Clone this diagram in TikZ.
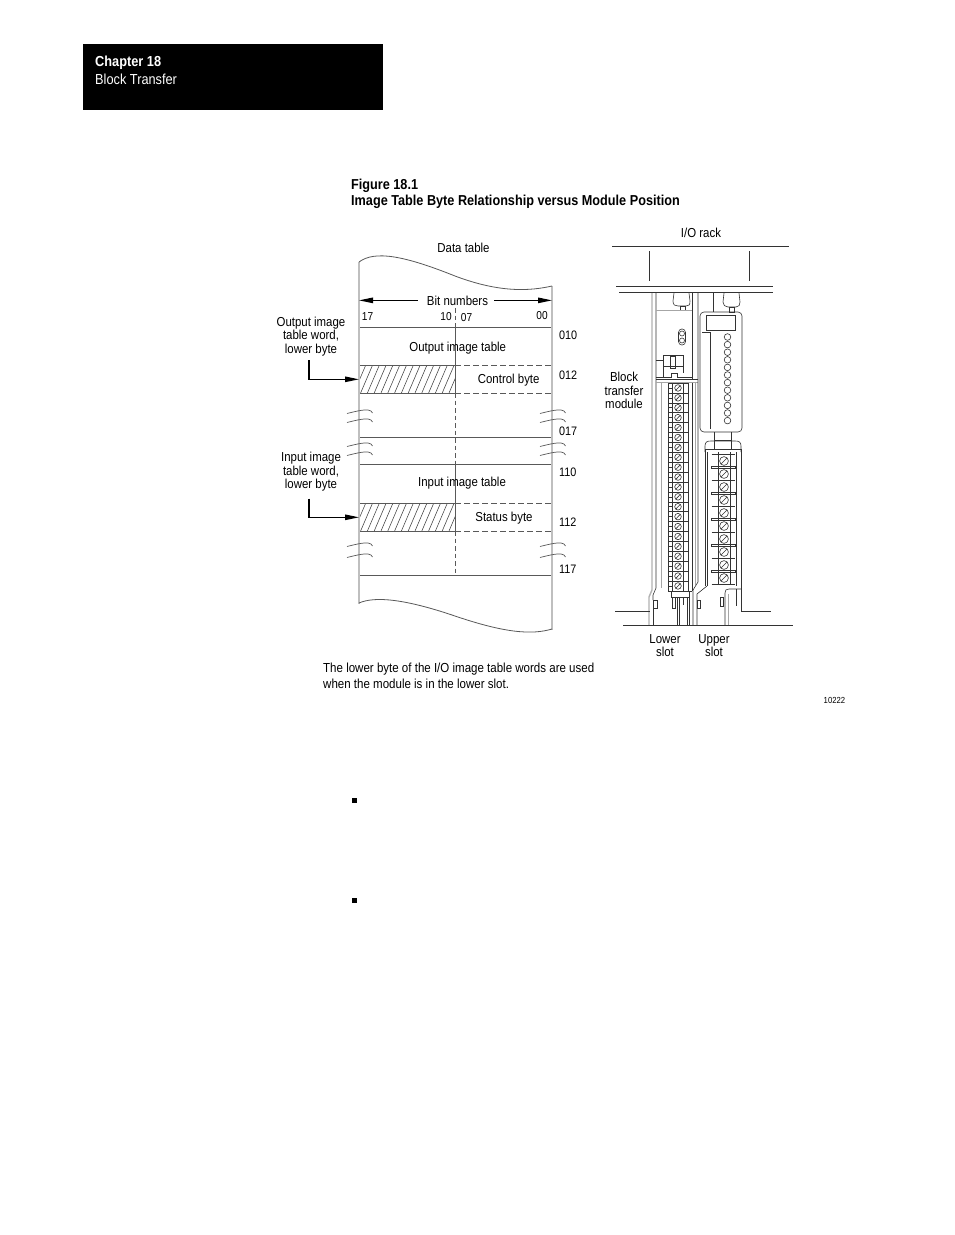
\documentclass[tikz,border=0pt]{standalone}
\usepackage{fontspec}
\setmainfont{Liberation Sans}[FakeStretch=0.88]
\usetikzlibrary{arrows.meta}
\newcommand{\fLab}{\fontsize{13}{13.5}\selectfont}
\newcommand{\fCap}{\fontsize{13.1}{16}\selectfont}
\newcommand{\fTit}{\fontsize{14.4}{16}\selectfont}
\newcommand{\fNum}{\fontsize{12.3}{13}\selectfont}
\newcommand{\fBit}{\fontsize{11.5}{12}\selectfont}
\newcommand{\fTiny}{\fontsize{8.8}{9}\selectfont}
\newcommand{\fHead}{\fontsize{14.5}{16}\selectfont}
\definecolor{ln}{gray}{0.35}
\definecolor{gr}{gray}{0.75}
\begin{document}
\begin{tikzpicture}[x=1pt,y=-1pt,
  txt/.style={inner sep=0pt, anchor=base},
  txtw/.style={inner sep=0pt, anchor=base west},
  mlab/.style={inner sep=0pt, anchor=north, align=center, font=\fLab},
  hl/.style={draw=ln, line width=0.9pt},
  dsh/.style={draw=ln, line width=0.9pt, dash pattern=on 5.5pt off 3.5pt},
  cdsh/.style={draw=ln, line width=0.6pt, dash pattern=on 4.5pt off 3pt},
  edge/.style={draw=gr, line width=1.8pt},
  wave/.style={draw=ln, line width=0.8pt},
  brk/.style={draw=ln, line width=0.7pt},
  hatch/.style={draw=black!75, line width=0.55pt},
  arr/.style={draw=black, line width=1.1pt, -{Triangle[length=14pt,width=5.5pt]}},
  mech/.style={draw=black!80, line width=0.6pt},
  mgray/.style={draw=black!30, line width=1.4pt},
  mlight/.style={draw=black!35, line width=0.7pt}
]
\useasboundingbox (0,0) rectangle (954,1235);
\fill[white] (0,0) rectangle (954,1235);

% ---------- header ----------
\fill[black] (83,44) rectangle (383,110);
\node[txtw, text=white, font=\fHead\bfseries] (chap) at (95,66) {Chapter 18};
\node[txtw, text=white, font=\fHead] (chapt) at (95,84) {Block Transfer};

% ---------- figure title ----------
\node[txtw, font=\fTit\bfseries] (fig) at (351,189) {Figure 18.1};
\node[txtw, font=\fTit\bfseries] (figt) at (351,205) {Image Table Byte Relationship versus Module Position};

% ---------- data table ----------
\node[txt, font=\fLab] (dtab) at (463.5,252) {Data table};

% hatching
\begin{scope}
  \clip (359,365) rectangle (455,393);
  \foreach \i in {0,...,17} \draw[hatch] ({347+\i*6.8},393) -- ++(12,-28);
\end{scope}
\begin{scope}
  \clip (359,503) rectangle (455,531);
  \foreach \i in {0,...,17} \draw[hatch] ({347+\i*6.8},531) -- ++(12,-28);
\end{scope}

% horizontal rows
\draw[hl] (359,327) -- (552,327);
\draw[hl] (359,365) -- (455,365); \draw[dsh] (455,365) -- (552,365);
\draw[hl] (359,393) -- (455,393); \draw[dsh] (455,393) -- (552,393);
\draw[hl] (359,437) -- (552,437);
\draw[hl] (359,464) -- (552,464);
\draw[hl] (359,503) -- (455,503); \draw[dsh] (455,503) -- (552,503);
\draw[hl] (359,531) -- (455,531); \draw[dsh] (455,531) -- (552,531);
\draw[hl] (359,575) -- (552,575);

% center divider
\draw[cdsh] (455,308) -- (455,327);
\draw[hl, line width=0.7pt] (455,327) -- (455,393);
\draw[cdsh] (455,393) -- (455,464);
\draw[hl, line width=0.7pt] (455,464) -- (455,531);
\draw[cdsh] (455,531) -- (455,575);

% side edges and torn edges
\draw[edge] (359,261.5) -- (359,603.5);
\draw[edge] (552,286) -- (552,629.5);
\draw[wave] (359,262) .. controls (375,250) and (405,256) .. (455,276) .. controls (500,293) and (530,291) .. (552,286);
\draw[wave] (359,603) .. controls (375,596) and (405,599) .. (455,616) .. controls (505,633) and (532,635) .. (552,629);

% break marks
\foreach \y in {412,421,445,454,545,556} {
  \draw[brk] (347,{\y+1.5}) .. controls (355,{\y-0.5}) and (363,{\y-2.5}) .. (368,{\y-2}) .. controls (370.5,{\y-1.8}) and (372,{\y-0.5}) .. (372.5,{\y+1});
  \draw[brk] (540,{\y+1.5}) .. controls (548,{\y-0.5}) and (556,{\y-2.5}) .. (561,{\y-2}) .. controls (563.5,{\y-1.8}) and (565,{\y-0.5}) .. (565.5,{\y+1});
}

% bit numbers
\node[txt, font=\fLab] (bitn) at (457.5,305) {Bit numbers};
\coordinate (dtL) at (359,301.5);
\coordinate (dtR) at (552,301.5);
\draw[arr] ([xshift=-9pt]bitn.west) -- (bitn.west -| dtL);
\draw[arr] ([xshift=6pt]bitn.east) -- (bitn.east -| dtR);
\node[txt, font=\fBit] (b17) at (367.5,320) {17};
\node[txt, font=\fBit] (b10) at (446,320) {10};
\node[txt, font=\fBit] (b07) at (466.5,321.5) {07};
\node[txt, font=\fBit] (b00) at (542,319.5) {00};

% row texts
\node[txt, font=\fLab] (oit) at (457.7,351) {Output image table};
\node[txt, font=\fLab] (cb) at (508.7,383) {Control byte};
\node[txt, font=\fLab] (iit) at (462,486.5) {Input image table};
\node[txt, font=\fLab] (sb) at (504,521.5) {Status byte};

% addresses
\node[txtw, font=\fNum] (a010) at (559,339.5) {010};
\node[txtw, font=\fNum] (a012) at (559,379) {012};
\node[txtw, font=\fNum] (a017) at (559,435) {017};
\node[txtw, font=\fNum] (a110) at (559,476) {110};
\node[txtw, font=\fNum] (a112) at (559,526.5) {112};
\node[txtw, font=\fNum] (a117) at (559,573) {117};

% left labels and arrows
\node[mlab] (outlbl) at (311,316.5) {Output image\\table word,\\lower byte};
\node[mlab] (inlbl) at (311,452) {Input image\\table word,\\lower byte};
\coordinate (oA) at (309,360);
\coordinate (oB) at (359,379.3);
\coordinate (iA) at (309,498.5);
\coordinate (iB) at (359,517.3);
\draw[arr] (oA) |- (oB);
\draw[arr] (iA) |- (iB);

% ---------- I/O rack ----------
\node[txt, font=\fLab] (rack) at (701,237) {I/O rack};
\draw[mech] (612,246) -- (789,246);
\draw[mech] (649,251) -- (649,281);
\draw[mech] (749,251) -- (749,281);
\draw[mech] (616,286) -- (773,286);
\draw[mech] (619,292) -- (773,292);

% lower slot module (block transfer)
\draw[mgray] (652,293) -- (652,590) -- (649,597) -- (649,625);
\draw[mech] (656,293) -- (656,588) -- (653,595) -- (653,600);
\draw[mech] (653,600) rectangle (657,608);
\draw[mech] (653,608) -- (653,625);
\draw[mech] (692,293) -- (692,379);
\draw[mech] (674,293) -- (673,301) .. controls (673,305) and (675,306) .. (678,306) -- (686,306) .. controls (689,306) and (690,305) .. (690,301) -- (689,293);
\draw[mech] (680,306) rectangle (685.5,310.5);
\draw[mlight] (656,310.5) -- (692,310.5);
\draw[mech, rounded corners=3.4pt] (678.5,329) rectangle (685.5,345);
\draw[mech] (682,333.5) circle (2.5pt);
\draw[mech] (682,340.5) circle (2.5pt);
\draw[mech] (663,378) -- (663,355) -- (683,355) -- (683,373);
\draw[mech] (656,360) -- (663,360);
\draw[mech] (663,366) -- (683,366);
\draw[mech] (670.5,356) rectangle (675,368);
\draw[mech] (656,377) -- (671,377) -- (671,373) -- (677,373) -- (677,377) -- (692,377);
\draw[mech] (656,379.5) -- (698,379.5);
\draw[mlight] (656,382.5) -- (698,382.5);

% lower terminal strip
\draw[mech] (668,383) -- (668,591);
\draw[mech] (672.5,383) -- (672.5,591);
\draw[mech] (683.5,383) -- (683.5,591);
\draw[mech] (688,383) -- (688,591);
\draw[mech] (692,382.5) -- (692,591);
\draw[mlight] (695.5,382.5) -- (695.5,585);
\draw[mlight] (661,382.5) -- (661,588);
\foreach \k in {0,...,20} {
  \pgfmathsetmacro{\yy}{383+9.9*\k}
  \pgfmathsetmacro{\yc}{\yy+4.95}
  \draw[mech] (668,\yy) -- (688,\yy);
  \draw[mech] (678,\yc) circle (3.3pt);
  \draw[mech] (675.8,{\yc+2.3}) -- (680.2,{\yc-2.3});
  \draw[mech] (668,{\yc}) -- (672.5,{\yc});
}
\draw[mech] (668,591) -- (692,591);
\draw[mech] (671,591) rectangle (689,597);
\draw[mech] (672,597) rectangle (675,608);
\draw[mech] (677,597) -- (677,625);
\draw[mech] (679.5,597) -- (679.5,625);
\draw[mech] (683,597) -- (683,605);
\draw[mech] (687,597) -- (687,625);
\draw[mech] (689,597) -- (689,625);

% upper slot module
\draw[mech] (698,293) -- (698,582) -- (693,590) -- (693,625);
\draw[mech] (713,293) -- (713,312);
\draw[mech] (724,293) -- (723,302) .. controls (723,305) and (725,307) .. (728,307) -- (736,307) .. controls (739,307) and (740,305) .. (740,302) -- (739,293);
\draw[mech] (729,307) rectangle (734,312);
\draw[mech, rounded corners=4pt] (700,312) rectangle (742,432);
\draw[mech] (706,315) rectangle (735,330);
\draw[mech] (702,332) -- (710,332) -- (710,429);
\foreach \k in {0,...,11} \draw[mech] (727.5,{337+7.6*\k}) circle (3.3pt);
\draw[mech] (714,432) -- (714,440);
\draw[mech] (731,432) -- (731,440);
\draw[mech] (705,452) -- (705,446) .. controls (705,442) and (707,441) .. (711,441) -- (735,441) .. controls (739,441) and (741,442) .. (741,446) -- (741,452);
\draw[mech] (714,440) rectangle (731,449);
\draw[mech] (705,449) -- (741,449);

% upper terminal block
\draw[mech] (705,449) -- (705,586);
\draw[mech] (707.5,452) -- (707.5,586);
\draw[mech] (718,452) -- (718,585);
\draw[mech] (730,452) -- (730,585);
\draw[mech] (736.5,452) -- (736.5,586);
\draw[mech] (741,449) -- (741,611) -- (771,611);
\foreach \k in {0,...,9} {
  \pgfmathsetmacro{\yc}{461+13*\k}
  \draw[mech] (724,\yc) circle (4.4pt);
  \draw[mech] (721,{\yc+3}) -- (727,{\yc-3});
}
\foreach \k in {0,...,10} {
  \pgfmathsetmacro{\yb}{454.5+13*\k}
  \ifodd\k
    \draw[mech] (711.5,{\yb-1}) rectangle (735,{\yb+1});
  \else
    \draw[mech, line width=1.1pt] (711.5,\yb) -- (735,\yb);
  \fi
}
\draw[mech] (707,586) -- (697,594) -- (697,625);
\draw[mech] (697,600) rectangle (700.5,608);
\draw[mech] (720,597) rectangle (723,606);
\draw[mech] (725,625) -- (725,593) .. controls (725,590) and (726,589) .. (729,589) -- (741,589);
\draw[mlight] (728,625) -- (728,594);
\draw[mech] (736.5,589) -- (736.5,606);

% base lines
\draw[mech] (615,611) -- (650,611);
\draw[mech] (623,625) -- (793,625);

% rack labels
\node[mlab] (btm) at (624,372) {Block\\transfer\\module};
\node[mlab] (lslot) at (665,634) {Lower\\slot};
\node[mlab] (uslot) at (714,634) {Upper\\slot};

% ---------- caption ----------
\node[txtw, font=\fCap] (cap1) at (323,672.5) {The lower byte of the I/O image table words are used};
\node[txtw, font=\fCap] (cap2) at (323,688.5) {when the module is in the lower slot.};
\node[txt, font=\fTiny] (fnum) at (834.5,703) {10222};

% ---------- bullets ----------
\fill[black] (351.5,797.5) rectangle (356.5,802.5);
\fill[black] (351.5,897.5) rectangle (356.5,902.5);
\end{tikzpicture}
\end{document}
